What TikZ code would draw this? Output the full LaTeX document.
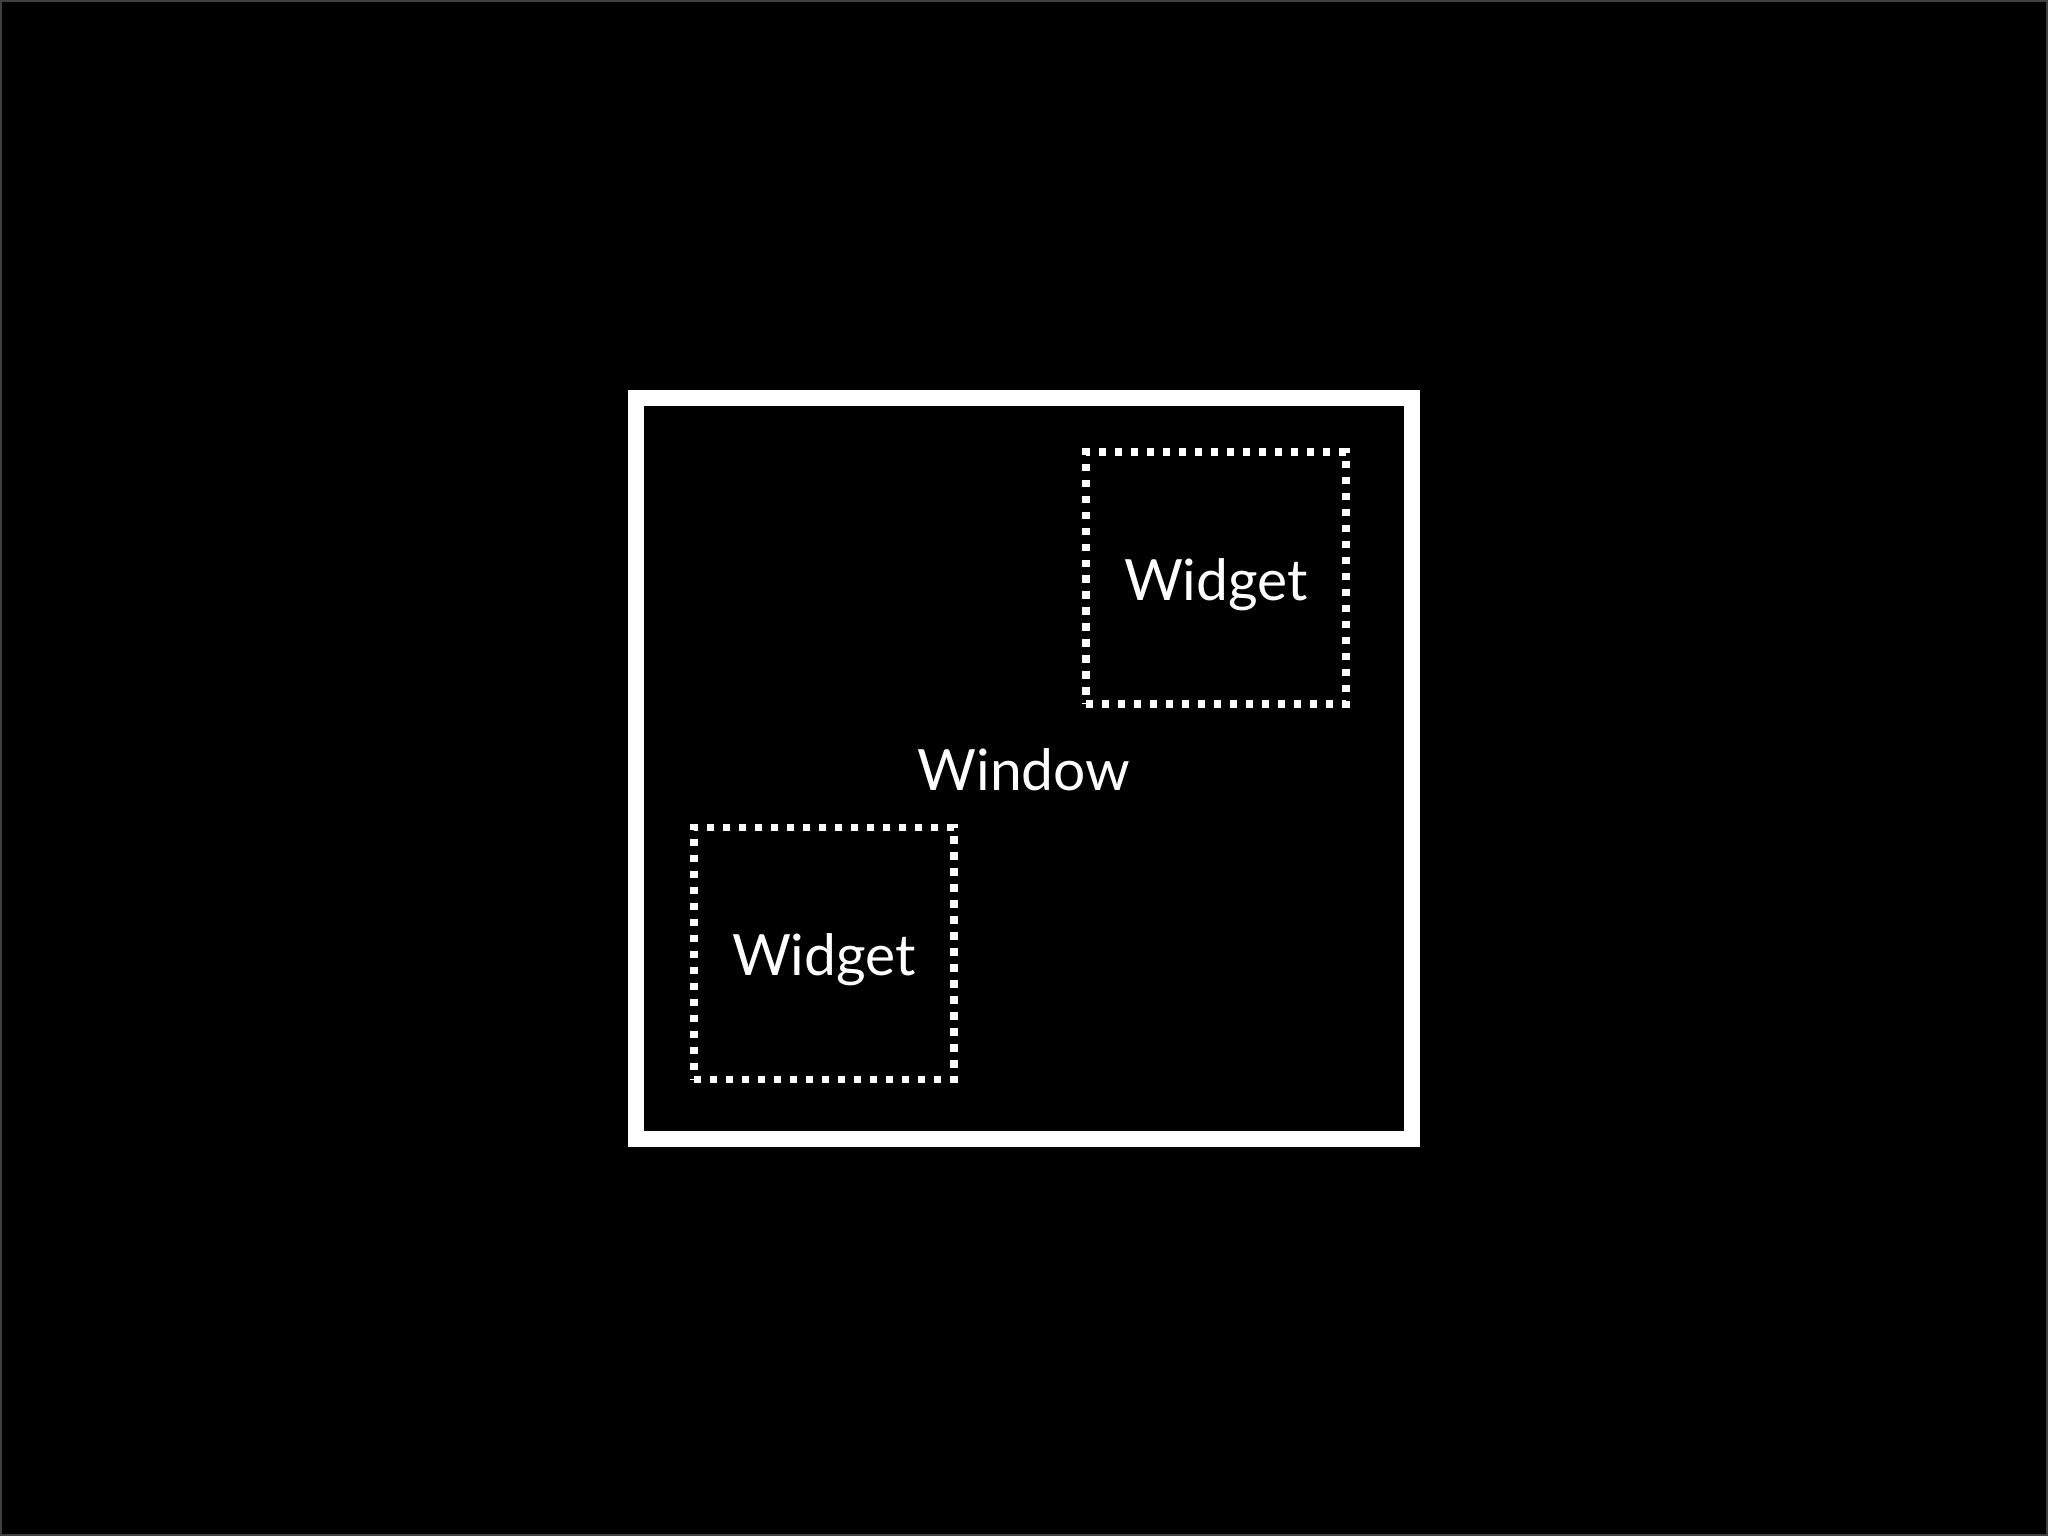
\documentclass[tikz,border=0pt]{standalone}
\usepackage{fontspec}
\setmainfont{Lato}
\begin{document}
\begin{tikzpicture}[
    window/.style={rectangle, draw=white, line width=4.55pt, minimum width=7.76cm, minimum height=7.41cm, inner sep=0pt, font=\fontsize{16.2}{19}\selectfont, text=white, text height=12.8pt, text depth=0pt},
    widget/.style={rectangle, draw=white, line width=2.1pt, dash pattern=on 2.1pt off 2.45pt, minimum width=2.6cm, minimum height=2.52cm, inner sep=0pt, font=\fontsize{16.2}{19}\selectfont, text=white, text height=12.8pt, text depth=0pt}
]
% Background
\useasboundingbox (0,0) rectangle (20.48,15.36);
\fill[black] (0,0) rectangle (20.48,15.36);
\draw[white!25!black, line width=0.6pt] (0.01,0.01) rectangle (20.47,15.35);

% Window
\node[window] (window) at (10.24,7.675) {Window};

% Widgets
\node[widget] (widgetA) at (12.16,9.58) {Widget};
\node[widget] (widgetB) at (8.24,5.825) {Widget};

\end{tikzpicture}
\end{document}
